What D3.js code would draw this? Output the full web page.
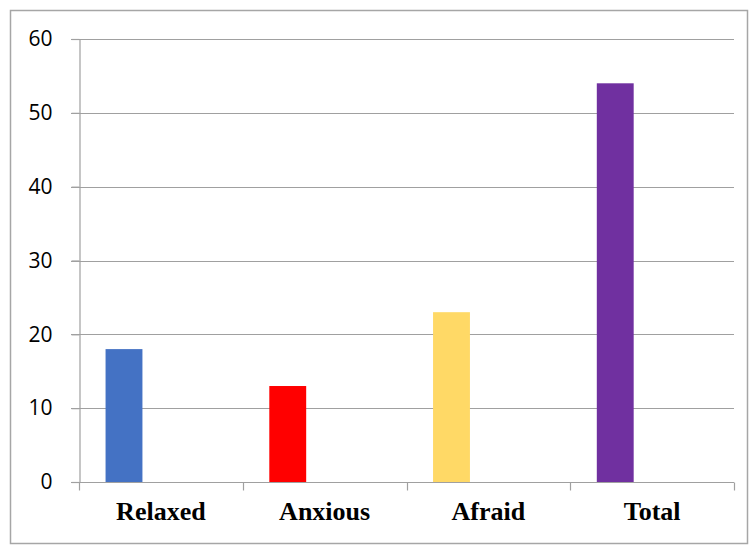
<!DOCTYPE html>
<html>
<head>
<meta charset="utf-8">
<script src="https://cdn.jsdelivr.net/npm/d3@7"></script>
<style>
  body { margin: 0; background: #fff; }
</style>
</head>
<body>
<script>
// data
const categories = ["Relaxed", "Anxious", "Afraid", "Total"];
const values = [18, 13, 23, 54];
const barColors = ["#4472C4", "#FF0000", "#FFD966", "#7030A0"];
// chart has two empty series slots after the one drawn
const seriesNames = ["Series1", "Series2", "Series3"];
const yTicks = [0, 10, 20, 30, 40, 50, 60];

const svgWidth = 755;
const svgHeight = 546;
const margin = { top: 39, right: 21, bottom: 64, left: 79 };

const svg = d3.select("body")
  .append("svg")
  .attr("width", svgWidth)
  .attr("height", svgHeight);

// outer border
svg.append("rect")
  .attr("x", 10.5)
  .attr("y", 10.5)
  .attr("width", 737)
  .attr("height", 533)
  .attr("fill", "none")
  .attr("stroke", "#a6a6a6")
  .attr("stroke-width", 1.5);

var x0 = d3.scaleBand()
  .domain(categories)
  .range([margin.left, svgWidth - margin.right])
  .padding(0);

var x1 = d3.scaleBand()
  .domain(seriesNames)
  .range([0, x0.bandwidth()])
  .paddingInner(0)
  .paddingOuter(0.72);

var y = d3.scaleLinear()
  .domain([0, 60])
  .range([svgHeight - margin.bottom, margin.top]);

// gridlines
svg.append("g")
  .selectAll("line")
  .data(yTicks.filter(d => d > 0))
  .enter()
  .append("line")
  .attr("x1", margin.left - 8)
  .attr("x2", svgWidth - margin.right)
  .attr("y1", d => Math.round(y(d)) + 0.5)
  .attr("y2", d => Math.round(y(d)) + 0.5)
  .attr("stroke", "#a0a0a0")
  .attr("stroke-width", 1.2);

// bars
svg.append("g")
  .selectAll("rect")
  .data(categories)
  .enter()
  .append("rect")
  .attr("x", (d) => x0(d) + x1("Series1"))
  .attr("width", x1.bandwidth())
  .attr("y", (d, i) => y(values[i]))
  .attr("height", (d, i) => y(0) - y(values[i]))
  .attr("fill", (d, i) => barColors[i]);

// y axis
var yAxis = svg.append("g")
  .attr("transform", "translate(" + (margin.left + 0.5) + ",0)")
  .call(d3.axisLeft(y).tickValues(yTicks).tickSize(8).tickPadding(19));
yAxis.select(".domain").attr("stroke", "#a0a0a0").attr("stroke-width", 1.2);
yAxis.selectAll(".tick line").attr("stroke", "#a0a0a0").attr("stroke-width", 1.2);
yAxis.selectAll("text")
  .attr("fill", "#000")
  .style("font-family", "'Open Sans', 'Liberation Sans', sans-serif")
  .style("font-size", "21px");

// x axis
var xAxis = svg.append("g")
  .attr("transform", "translate(0," + (Math.round(y(0)) + 0.5) + ")")
  .call(d3.axisBottom(x0).tickSize(0).tickPadding(19));
xAxis.select(".domain")
  .attr("d", "M" + (margin.left - 8) + ",0H" + (svgWidth - margin.right))
  .attr("stroke", "#a0a0a0")
  .attr("stroke-width", 1.2);
xAxis.selectAll("text")
  .attr("fill", "#000")
  .style("font-family", "'Liberation Serif', 'Times New Roman', serif")
  .style("font-weight", "bold")
  .style("font-size", "26px");

// category separator ticks
xAxis.selectAll(".sep")
  .data(categories.concat(["end"]))
  .enter()
  .append("line")
  .attr("x1", (d, i) => Math.round(margin.left + i * x0.step()) + 0.5)
  .attr("x2", (d, i) => Math.round(margin.left + i * x0.step()) + 0.5)
  .attr("y1", 0)
  .attr("y2", 8)
  .attr("stroke", "#a0a0a0")
  .attr("stroke-width", 1.2);
</script>
</body>
</html>
